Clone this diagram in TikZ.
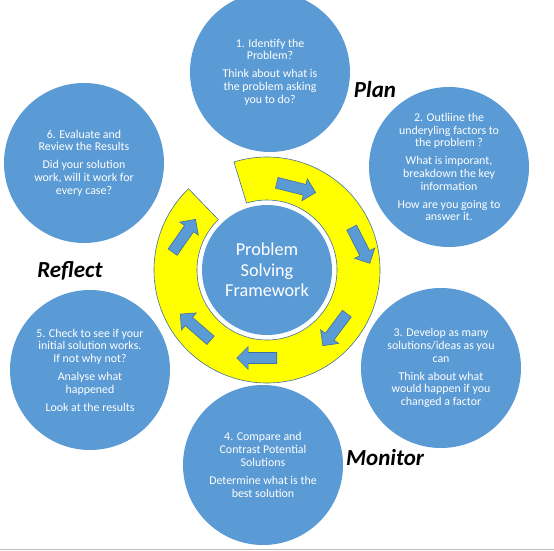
\documentclass[tikz,border=0pt]{standalone}
\usepackage{fontspec}
\setmainfont{Carlito}
\usepackage{tikz}
\usetikzlibrary{shapes.arrows,calc}
\definecolor{StepBlue}{RGB}{91,155,213}
\definecolor{EdgeBlue}{RGB}{65,113,156}
\definecolor{RingYellow}{RGB}{255,255,0}
\definecolor{RuleGray}{RGB}{190,190,190}

\begin{document}
\begin{tikzpicture}[x=1pt,y=1pt,
  stepcirc/.style={circle,fill=StepBlue,minimum size=160pt,inner sep=0pt,
    align=center,text=white,font=\fontsize{11.9}{12.8}\selectfont},
  hub/.style={circle,fill=StepBlue,minimum size=130pt,inner sep=0pt,
    align=center,text=white,font=\fontsize{18.2}{20.5}\selectfont},
  phase/.style={font=\fontsize{23}{27}\selectfont\bfseries\itshape,inner sep=0pt},
  ring/.style={fill=RingYellow,draw=EdgeBlue,line width=0.6pt},
  blk/.style={single arrow,fill=StepBlue,draw=EdgeBlue,line width=0.6pt,
    minimum height=40pt,inner sep=5.2pt,single arrow head extend=5.8pt},
]
\useasboundingbox (0,0) rectangle (554,550);
% --- ring round the hub ---
\coordinate (O) at (267,280);
\draw[ring] ($(O)+(107:113)$) arc[start angle=107,end angle=-226,radius=113]
  -- ($(O)+(-226:70)$) arc[start angle=-226,end angle=107,radius=70] -- cycle;
\node[hub] (hub) at (O) {Problem\\Solving\\Framework};

% --- block arrows on the ring ---
\foreach \n/\p/\r in {a1/{293.5,363}/-14,a2/{359.5,307}/-63,a3/{336.5,222.5}/-127,
    a4/{259.5,192}/180,a5/{197.5,221}/139,a6/{182.5,312}/55}
  \node[blk,rotate=\r] (\n) at (\p) {};

% --- the six steps ---
\node[stepcirc] (C1) at (270,478)
  {1. Identify the\\Problem?\\[5pt]Think about what is\\the problem asking\\you to do?};
\node[stepcirc] (C2) at (449,383)
  {2. Outliine the\\underyling factors to\\the problem ?\\[5pt]What is imporant,\\breakdown the key\\information\\[5pt]How are you going to\\answer it.};
\node[stepcirc] (C3) at (441,182)
  {3. Develop as many\\solutions/ideas as you\\can\\[5pt]Think about what\\would happen if you\\changed a factor};
\node[stepcirc] (C4) at (263,85)
  {4. Compare and\\Contrast Potential\\Solutions\\[5pt]Determine what is the\\best solution};
\node[stepcirc] (C5) at (90,180)
  {5. Check to see if your\\initial solution works.\\If not why not?\\[5pt]Analyse what\\happened\\[5pt]Look at the results};
\node[stepcirc] (C6) at (84,387)
  {6. Evaluate and\\Review the Results\\[5pt]Did your solution\\work, will it work for\\every case?};

% --- phase labels ---
\node[phase] (plan) at (375,460) {Plan};
\node[phase] (reflect) at (70,279) {Reflect};
\node[phase] (monitor) at (385,92) {Monitor};

\draw[RuleGray,line width=1pt] (0,1) -- (554,1);
\end{tikzpicture}
\end{document}
